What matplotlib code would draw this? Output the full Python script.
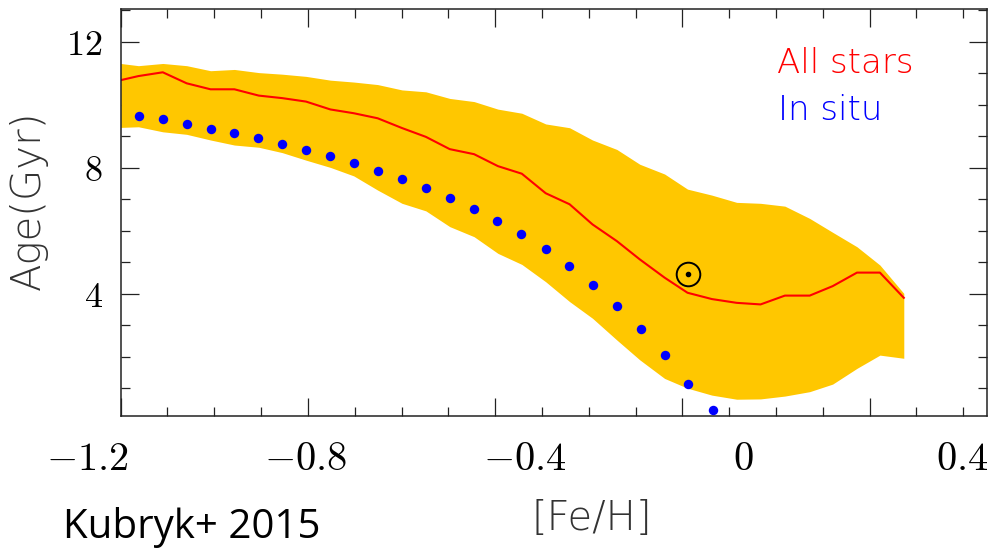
import matplotlib

matplotlib.use("Agg")
import matplotlib.pyplot as plt
from matplotlib.ticker import MultipleLocator

plt.rcParams["mathtext.fontset"] = "cm"

# [Fe/H] positions of the model curves
feh_grid = [-1.200, -1.162, -1.110, -1.059, -1.008, -0.957, -0.905, -0.855,
            -0.804, -0.752, -0.702, -0.651, -0.599, -0.548, -0.497, -0.445,
            -0.394, -0.343, -0.292, -0.241, -0.192, -0.140, -0.091, -0.038,
            0.011, 0.063, 0.116, 0.167, 0.219, 0.272, 0.321, 0.373, 0.422,
            0.473]
band_upper = [11.31, 11.24, 11.31, 11.24, 11.08, 11.12, 11.02, 10.97, 10.90,
              10.78, 10.72, 10.64, 10.47, 10.41, 10.20, 10.10, 9.86, 9.73,
              9.39, 9.27, 8.88, 8.58, 8.11, 7.80, 7.32, 7.13, 6.90, 6.87,
              6.78, 6.39, 5.95, 5.49, 4.91, 4.01]
band_lower = [9.28, 9.30, 9.14, 9.06, 8.88, 8.72, 8.65, 8.48, 8.24, 8.01,
              7.74, 7.29, 6.87, 6.63, 6.13, 5.81, 5.28, 4.93, 4.38, 3.75,
              3.22, 2.53, 1.90, 1.31, 1.00, 0.78, 0.65, 0.66, 0.75, 0.89,
              1.13, 1.63, 2.05, 1.95]
all_stars = [10.78, 10.91, 11.03, 10.68, 10.49, 10.49, 10.29, 10.21, 10.10,
             9.85, 9.73, 9.57, 9.26, 8.98, 8.59, 8.43, 8.05, 7.81, 7.19,
             6.84, 6.20, 5.67, 5.09, 4.51, 4.03, 3.83, 3.71, 3.66, 3.94,
             3.94, 4.24, 4.67, 4.67, 3.87]

# in-situ stars (blue dots)
insitu_feh = [-1.160, -1.110, -1.058, -1.008, -0.957, -0.906, -0.855, -0.804,
              -0.752, -0.702, -0.650, -0.599, -0.548, -0.497, -0.446, -0.395,
              -0.344, -0.292, -0.242, -0.191, -0.139, -0.089, -0.038, 0.013,
              0.065]
insitu_age = [9.65, 9.55, 9.39, 9.24, 9.09, 8.94, 8.75, 8.57, 8.37, 8.14,
              7.91, 7.64, 7.35, 7.03, 6.69, 6.30, 5.89, 5.41, 4.87, 4.29,
              3.61, 2.88, 2.06, 1.14, 0.32]

sun_feh, sun_age = 0.011, 4.63

# the printed x labels sit on a slightly different scale than the ticks
xlabel_values = [-1.2, -0.8, -0.4, 0.0, 0.4]
xlabel_texts = ["$-1.2$", "$-0.8$", "$-0.4$", "$0$", "$0.4$"]
LABEL_SCALE = 0.856
LABEL_SHIFT = -0.111

BAND = "#ffc700"

fig = plt.figure(figsize=(9.94, 5.5), dpi=100)
ax = fig.add_axes([0.1214, 0.2431, 0.8712, 0.7400])

ax.fill_between(feh_grid, band_lower, band_upper, color=BAND, lw=0, zorder=2)
ax.plot(feh_grid, all_stars, color="red", lw=1.5, zorder=3)
ax.plot(insitu_feh, insitu_age, "o", color="blue", ms=6.8, mec="none",
        zorder=4, clip_on=False)
ax.plot(sun_feh, sun_age, "o", mfc="none", mec="black", ms=17, mew=1.4, zorder=5)
ax.plot(sun_feh, sun_age, "o", color="black", ms=3, zorder=5)

ax.set_xlim(-1.2, 0.65)
ax.set_ylim(0.108, 13.03)

ax.xaxis.set_major_locator(MultipleLocator(0.4))
ax.xaxis.set_minor_locator(MultipleLocator(0.1))
ax.set_yticks([4, 8, 12])
ax.yaxis.set_minor_locator(MultipleLocator(1))
ax.set_yticklabels(["$4$", "$8$", "$12$"], fontsize=26)
ax.set_xticklabels([])

ax.tick_params(which="both", direction="in", top=True, right=True,
               width=0.9, color="#222222")
ax.tick_params(which="major", length=13)
ax.tick_params(which="minor", length=6.5)
ax.tick_params(axis="y", pad=13)
for sp in ax.spines.values():
    sp.set_linewidth(1.1)
    sp.set_color("#222222")
    sp.set_zorder(6)

for val, txt in zip(xlabel_values, xlabel_texts):
    ax.text((val - LABEL_SHIFT) / LABEL_SCALE, -0.132, txt, fontsize=29,
            ha="center", va="baseline", transform=ax.get_xaxis_transform(),
            clip_on=False)

ax.text(0.7575, 0.8435, "All stars", color="red", fontsize=24.5,
        fontweight="light", transform=ax.transAxes)
ax.text(0.759, 0.728, "In situ", color="blue", fontsize=24.5,
        fontweight="light", transform=ax.transAxes)

fig.text(592 / 994, 0.0364, "[Fe/H]", fontsize=29, fontweight="light",
         ha="center", va="baseline", color="#333333")
fig.text(28 / 994, 1 - 200 / 550, "Age(Gyr)", fontsize=29, fontweight="light",
         rotation=90, ha="center", va="center", color="#333333")
fig.text(63 / 994, 1 - 538 / 550, "Kubryk+ 2015", fontsize=29,
         family="Open Sans", ha="left", va="baseline")

fig.savefig("out.png", dpi=100)
